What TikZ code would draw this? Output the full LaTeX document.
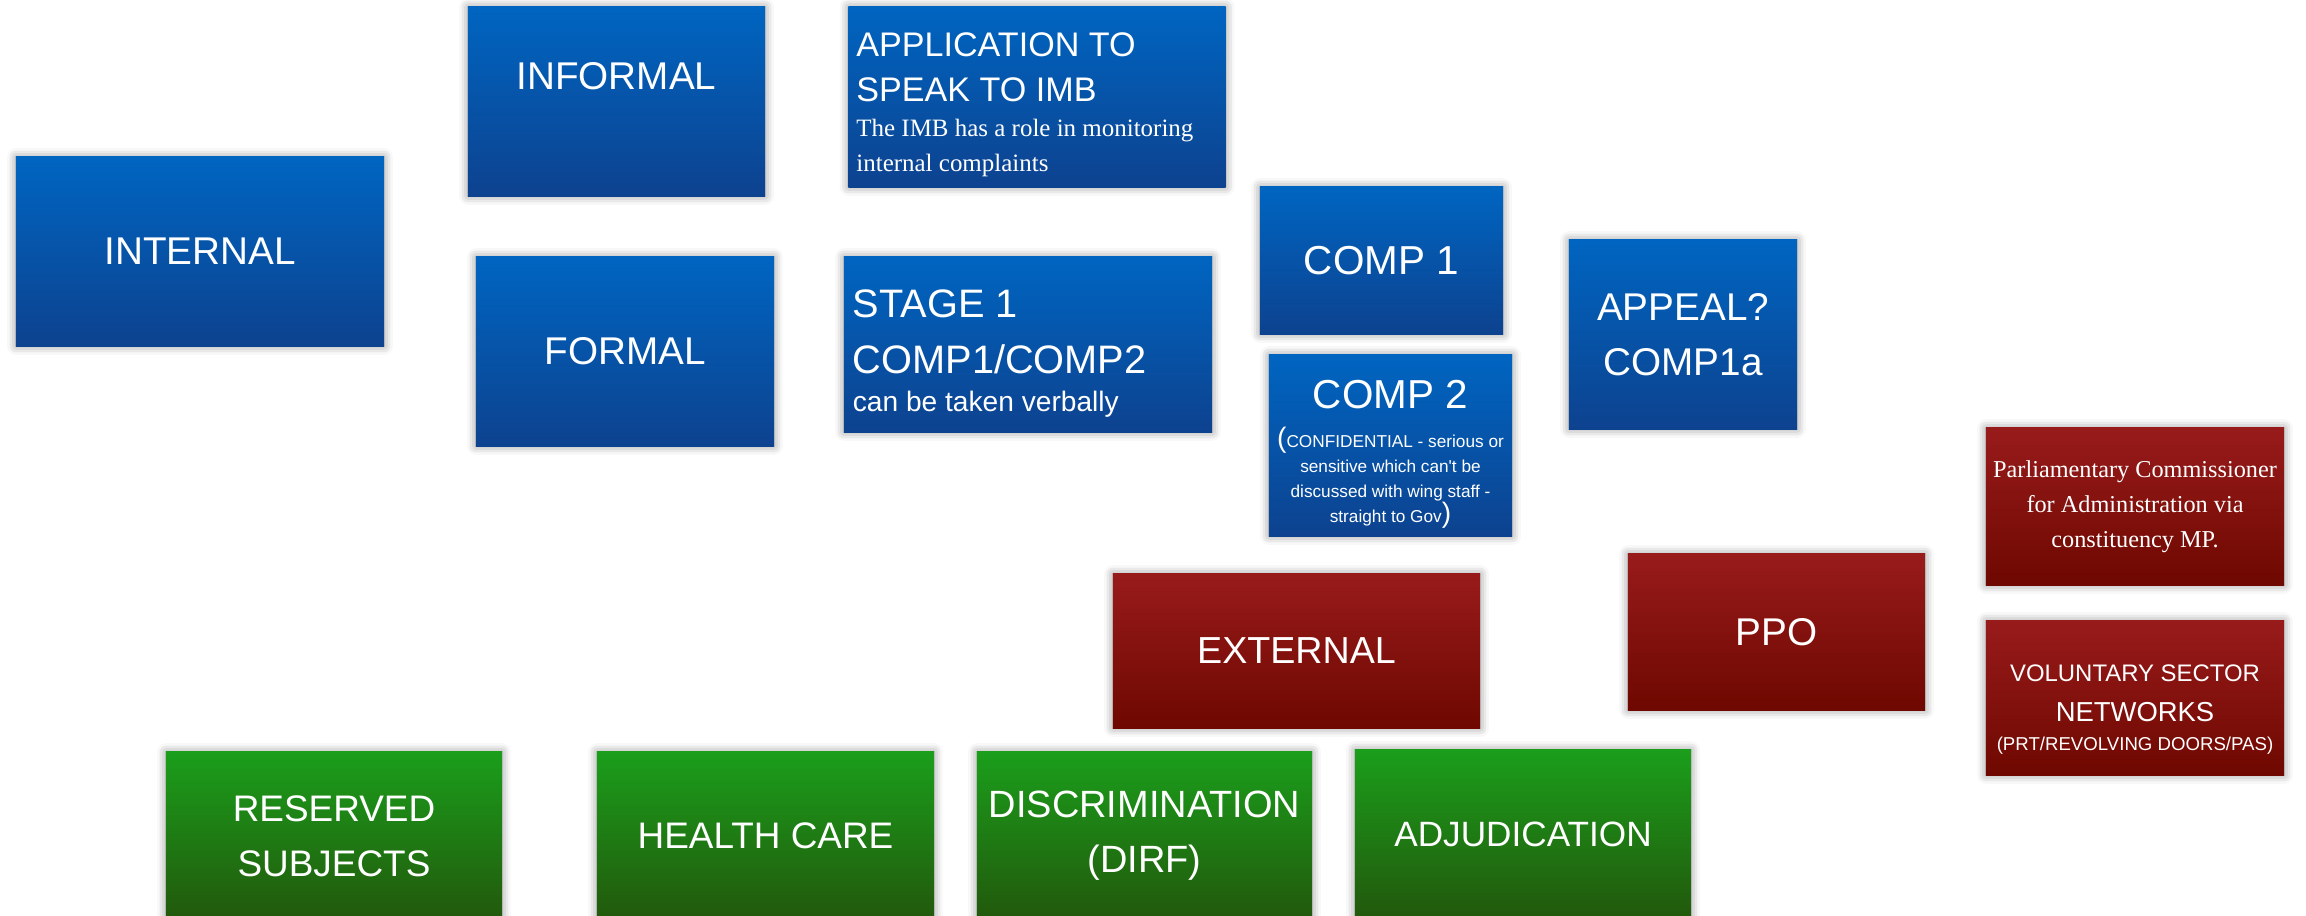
\documentclass[tikz,border=0pt]{standalone}
\usepackage{fontspec}
\setmainfont{Liberation Sans}
\newfontfamily\timesbox{Liberation Serif}
\usetikzlibrary{shadows.blur}

\definecolor{blueTop}{RGB}{0,101,193}
\definecolor{blueBot}{RGB}{13,66,143}
\definecolor{redTop}{RGB}{152,27,27}
\definecolor{redBot}{RGB}{110,8,0}
\definecolor{greenTop}{RGB}{27,158,27}
\definecolor{greenBot}{RGB}{34,88,12}

\newcommand{\fs}[2]{\fontsize{#1}{#2}\selectfont}

\begin{document}
\begin{tikzpicture}[x=0.01cm, y=-0.01cm]
%styles des boites
\tikzstyle{box}=[rectangle, inner sep=0pt, text=white,
  blur shadow={shadow xshift=0pt, shadow yshift=0pt, shadow blur radius=2.5pt, shadow opacity=45}]
\tikzstyle{bluebox}=[box, top color=blueTop, bottom color=blueBot]
\tikzstyle{redbox}=[box, top color=redTop, bottom color=redBot]
\tikzstyle{greenbox}=[box, top color=greenTop, bottom color=greenBot]

\useasboundingbox (0,0) rectangle (2306,915);

%internal side
\node[bluebox, minimum width=3.68cm, minimum height=1.89cm, font=\fs{11pt}{14pt}] (internal) at (200,251.5) {INTERNAL};
\node[bluebox, minimum width=2.97cm, minimum height=1.89cm, font=\fs{11pt}{14pt}, text depth=0.5cm] (informal) at (616.5,101.5) {INFORMAL};
\node[bluebox, minimum width=2.98cm, minimum height=1.89cm, font=\fs{11pt}{14pt}] (formal) at (625,351.5) {FORMAL};

\node[bluebox, minimum width=3.77cm, minimum height=1.80cm, text width=3.61cm, align=flush left] (imb) at (1037,97)
  {\fs{9.7pt}{12.8pt}\rule{0pt}{11pt}APPLICATION TO\\ SPEAK TO IMB\par
   {\timesbox\fs{7.1pt}{10pt}The IMB has a role in monitoring\\ internal complaints\par}};
\node[bluebox, minimum width=3.68cm, minimum height=1.75cm, text width=3.5cm, align=flush left] (stage) at (1028,344.5)
  {\fs{11.3pt}{15.8pt}\rule{0pt}{13pt}STAGE 1\\ COMP1/COMP2\par\vspace{0.4pt}
   {\fs{8pt}{10.4pt}can be taken verbally\par}};

\node[bluebox, minimum width=2.43cm, minimum height=1.47cm, font=\fs{11.5pt}{14pt}] (compone) at (1381.5,260.5) {COMP 1};
\node[bluebox, minimum width=2.43cm, minimum height=1.81cm, text width=2.4cm, align=flush center] (comptwo) at (1390.5,445.5)
  {\fs{11.5pt}{14pt}\rule{0pt}{13pt}COMP 2\par\vspace{4pt}
   {\fs{4.9pt}{7.1pt}{\fs{8pt}{7.1pt}(}CONFIDENTIAL - serious or\\ sensitive which can\textquotesingle t be\\ discussed with wing staff -\\ straight to Gov{\fs{8pt}{7.1pt})}\par}};
\node[bluebox, minimum width=2.28cm, minimum height=1.89cm, text width=2.2cm, align=flush center] (appeal) at (1683,334.5)
  {\fs{11pt}{15.6pt}APPEAL?\\ COMP1a\par};

%external side
\node[redbox, minimum width=3.67cm, minimum height=1.54cm, font=\fs{10.7pt}{14pt}] (external) at (1296.5,651) {EXTERNAL};
\node[redbox, minimum width=2.97cm, minimum height=1.56cm, font=\fs{11pt}{14pt}] (ppo) at (1776.5,632) {PPO};
\node[redbox, minimum width=2.98cm, minimum height=1.57cm, text width=2.9cm, align=flush center] (pca) at (2135,506.5)
  {\timesbox\fs{6.9pt}{10pt}Parliamentary Commissioner\\ for Administration via\\ constituency MP.\par};
\node[redbox, minimum width=2.98cm, minimum height=1.54cm, text width=2.9cm, align=flush center] (voluntary) at (2135,698)
  {{\fs{6.8pt}{8pt}\rule{0pt}{11.5pt}VOLUNTARY SECTOR\par}
   {\fs{7.8pt}{11.4pt}NETWORKS\par}
   {\fs{5.3pt}{8.2pt}(PRT/REVOLVING DOORS/PAS)\par}};

%subject areas
\node[greenbox, minimum width=3.36cm, minimum height=1.68cm, text width=3.2cm, align=flush center] (reserved) at (334,836)
  {\fs{10.5pt}{15.6pt}RESERVED\\ SUBJECTS\par};
\node[greenbox, minimum width=3.37cm, minimum height=1.68cm, font=\fs{10.5pt}{14pt}] (health) at (765.5,836) {HEALTH CARE};
\node[greenbox, minimum width=3.35cm, minimum height=1.68cm, text width=3.3cm, align=flush center] (discrimination) at (1144.5,836)
  {\fs{10.8pt}{15.6pt}DISCRIMINATION\\ (DIRF)\par};
\node[greenbox, minimum width=3.36cm, minimum height=1.68cm, font=\fs{10pt}{14pt}] (adjudication) at (1523,834) {ADJUDICATION};

\end{tikzpicture}
\end{document}
